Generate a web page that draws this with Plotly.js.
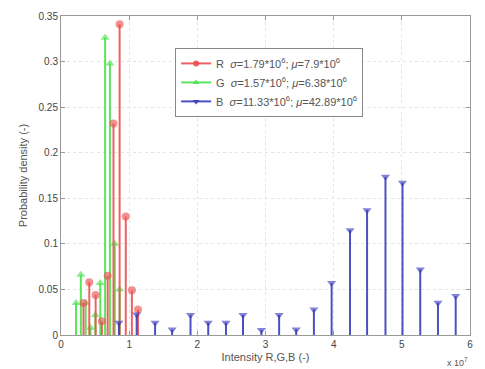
<!DOCTYPE html>
<html><head><meta charset="utf-8">
<script src="https://cdn.plot.ly/plotly-3.0.1.min.js"></script>
<style>html,body{margin:0;padding:0;background:#fff}#c{width:485px;height:369px}</style>
</head><body><div id="c"></div>
<script>
// Bin centres (intensity) and probability densities
const rX = [0.33e7, 0.415e7, 0.508e7, 0.60e7, 0.685e7, 0.77e7, 0.86e7, 0.95e7, 1.04e7, 1.13e7];
const rY = [0.035, 0.058, 0.044, 0.015, 0.065, 0.232, 0.341, 0.130, 0.049, 0.028];
const gX = [0.22e7, 0.291e7, 0.362e7, 0.433e7, 0.504e7, 0.576e7, 0.647e7, 0.718e7, 0.789e7, 0.86e7];
const gY = [0.035, 0.066, 0.035, 0.008, 0.022, 0.057, 0.326, 0.298, 0.100, 0.050];
const bX = [0.85e7, 1.11e7, 1.38e7, 1.63e7, 1.90e7, 2.16e7, 2.42e7, 2.67e7, 2.94e7, 3.20e7,
            3.45e7, 3.71e7, 3.97e7, 4.24e7, 4.49e7, 4.76e7, 5.01e7, 5.27e7, 5.53e7, 5.79e7];
const bY = [0.0135, 0.0226, 0.0135, 0.006, 0.022, 0.0135, 0.0135, 0.022, 0.0055, 0.022,
            0.006, 0.028, 0.057, 0.115, 0.137, 0.1735, 0.167, 0.072, 0.0354, 0.0427];
const names = ['R&nbsp;&nbsp;<i>σ</i>=1.79*10<sup>6</sup>; <i>μ</i>=7.9*10<sup>6</sup>',
               'G&nbsp;&nbsp;<i>σ</i>=1.57*10<sup>6</sup>; <i>μ</i>=6.38*10<sup>6</sup>',
               'B&nbsp;&nbsp;<i>σ</i>=11.33*10<sup>6</sup>; <i>μ</i>=42.89*10<sup>6</sup>'];
const xTicks = [0, 1, 2, 3, 4, 5, 6];
const yTicks = [0, 0.05, 0.1, 0.15, 0.2, 0.25, 0.3, 0.35];

const cR = 'rgba(235,80,80,0.9)', cG = 'rgba(75,225,75,0.9)', cB = 'rgba(60,60,190,0.9)';

function stem(xs, ys, color, symbol) {
  const x = [], y = [], s = [];
  xs.forEach((v, i) => { x.push(v, v, null); y.push(0, ys[i], null); s.push(0, 8, 0); });
  return {x, y, type: 'scatter', mode: 'lines+markers', showlegend: false,
    line: {color, width: 2}, marker: {color, size: s, symbol, line: {width: 0}},
    cliponaxis: false};
}
function legendItem(name, color, symbol) {
  return {x: [null], y: [null], name, type: 'scatter', mode: 'lines+markers',
    line: {color, width: 2}, marker: {color, size: 6, symbol}};
}
const data = [
  stem(gX, gY, cG, 'triangle-up'),
  stem(rX, rY, cR, 'circle'),
  stem(bX, bY, cB, 'triangle-down'),
  legendItem(names[0], cR, 'circle'),
  legendItem(names[1], cG, 'triangle-up'),
  legendItem(names[2], cB, 'triangle-down')
];
const layout = {
  width: 485, height: 369,
  margin: {l: 61, r: 15, t: 16, b: 34},
  paper_bgcolor: '#fff', plot_bgcolor: '#fff',
  font: {family: 'Liberation Sans, Arial, sans-serif', size: 10, color: '#444'},
  showlegend: true,
  legend: {x: 0.279, y: 0.9, xanchor: 'left', yanchor: 'top', bgcolor: '#fff',
    bordercolor: '#888', borderwidth: 1, font: {size: 11, color: '#555'},
    traceorder: 'normal', tracegroupgap: 0, itemwidth: 30},
  xaxis: {range: [0, 6e7], tickvals: xTicks.map(v => v * 1e7), ticktext: xTicks.map(String),
    showgrid: true, gridcolor: '#e4e4e4', griddash: 'dot', zeroline: false,
    showline: true, linecolor: '#999', mirror: 'ticks', ticks: 'inside', ticklen: 4, tickcolor: '#999',
    title: {text: 'Intensity R,G,B (-)', font: {size: 11, color: '#555'}, standoff: 4}},
  yaxis: {range: [0, 0.35], tickvals: yTicks, ticktext: yTicks.map(String),
    showgrid: true, gridcolor: '#e4e4e4', griddash: 'dot', zeroline: false,
    showline: true, linecolor: '#999', mirror: 'ticks', ticks: 'inside', ticklen: 4, tickcolor: '#999',
    title: {text: 'Probability density (-)', font: {size: 11, color: '#555'}, standoff: 8}},
  annotations: [{xref: 'paper', yref: 'paper', x: 1.0, y: -0.085, xanchor: 'right', yanchor: 'middle',
    text: 'x 10<sup>7</sup>', showarrow: false, font: {size: 9, color: '#555'}}]
};
Plotly.newPlot('c', data, layout, {staticPlot: true});
</script></body></html>
